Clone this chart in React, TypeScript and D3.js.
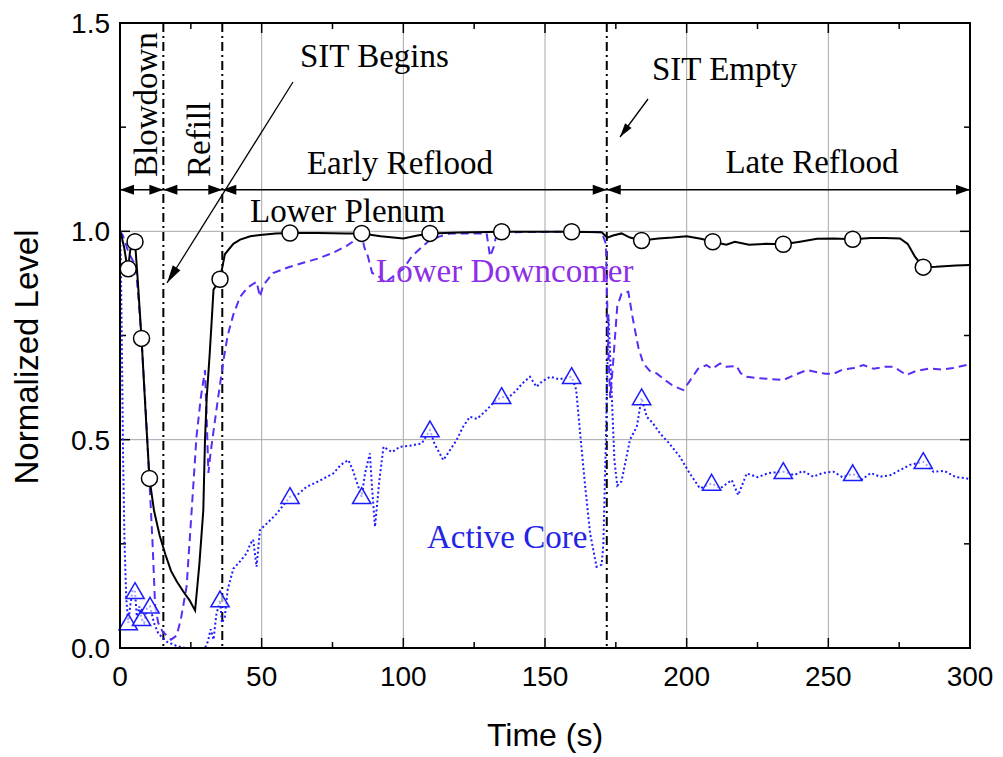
import React from "react";
import * as d3 from "d3";

// Normalized collapsed levels vs. time (s)
const lowerPlenum: [number, number][] = [
  [0, 1.0], [0.5, 0.99], [1.5, 0.96], [2.2, 0.93], [2.9, 0.91], [3.5, 0.95], [4.3, 0.975], [5.3, 0.975],
  [6.3, 0.88], [7.6, 0.743], [9, 0.57], [10.4, 0.407], [12, 0.33], [14, 0.27], [16, 0.225], [18, 0.185],
  [20, 0.16], [22.4, 0.135], [24.5, 0.115], [26.5, 0.09], [28, 0.2], [29.4, 0.33], [30, 0.5], [30.6, 0.6],
  [31.6, 0.7], [32.4, 0.79], [33, 0.86], [35.3, 0.885], [37, 0.945], [40, 0.97], [42.4, 0.98], [46, 0.988],
  [49.4, 0.991], [55, 0.995], [60, 0.996], [70, 0.996], [80, 0.995], [85.3, 0.995], [92, 0.988], [100, 0.983],
  [105, 0.99], [109.4, 0.995], [120, 0.997], [134.7, 0.999], [150, 0.999], [159.4, 0.999], [170, 0.998],
  [172, 0.985], [174, 0.99], [177, 0.995], [180, 0.985], [184.1, 0.978], [190, 0.983], [195, 0.985],
  [200, 0.988], [205, 0.982], [209.2, 0.975], [214, 0.968], [217, 0.975], [222, 0.968], [228, 0.97],
  [234.1, 0.969], [240, 0.975], [246, 0.982], [252, 0.983], [258.6, 0.981], [265, 0.984], [270, 0.984],
  [275.3, 0.983], [278, 0.97], [280.5, 0.94], [283.5, 0.914], [288, 0.915], [295, 0.918], [300, 0.919],
];
const lowerPlenumMarks: [number, number][] = [
  [2.9, 0.91], [5.3, 0.975], [7.6, 0.743], [10.4, 0.407], [35.3, 0.885], [60, 0.996], [85.3, 0.995],
  [109.4, 0.995], [134.7, 0.999], [159.4, 0.999], [184.1, 0.978], [209.2, 0.975], [234.1, 0.969],
  [258.6, 0.981], [283.5, 0.914],
];

const lowerDowncomer: [number, number][] = [
  [0, 1.0], [1, 0.99], [2, 0.97], [3, 0.95], [4.5, 0.93], [5.5, 0.92], [6.5, 0.84], [7.6, 0.74], [9, 0.58],
  [10.4, 0.4], [11.5, 0.25], [12.4, 0.1], [13.5, 0.06], [15, 0.04], [16.5, 0.03], [18, 0.02], [20, 0.03],
  [21.5, 0.07], [23.5, 0.147], [25, 0.3], [27, 0.507], [28.5, 0.6], [30, 0.667], [30.6, 0.55], [31.2, 0.42],
  [32, 0.47], [34, 0.57], [36.5, 0.69], [38, 0.75], [40, 0.8], [42.4, 0.843], [45, 0.865], [48.2, 0.879],
  [49.4, 0.843], [50.5, 0.87], [54, 0.9], [60, 0.915], [65, 0.925], [70, 0.935], [75, 0.948], [80, 0.965],
  [85.3, 0.99], [86.3, 0.96], [87.5, 0.94], [89, 0.9], [91.8, 0.89], [93.5, 0.876], [96, 0.89], [100, 0.91],
  [103, 0.94], [107, 0.965], [109.4, 0.979], [113, 0.988], [116.5, 0.995], [125, 0.995], [129.4, 0.995],
  [130.6, 0.94], [131.8, 0.96], [133, 0.995], [140, 0.998], [155, 0.999], [170, 0.998], [171.5, 0.97],
  [172.2, 0.75], [173, 0.6], [174, 0.68], [175.5, 0.82], [177, 0.85], [179.4, 0.855], [181, 0.79],
  [183, 0.72], [184.7, 0.683], [187, 0.665], [189.4, 0.659], [192, 0.645], [195, 0.63], [198.8, 0.619],
  [201, 0.64], [204, 0.67], [207, 0.679], [209, 0.67], [211.8, 0.683], [214, 0.675], [217.6, 0.677],
  [219, 0.66], [221.2, 0.651], [225, 0.648], [230, 0.645], [234.1, 0.643], [238, 0.655], [242.4, 0.667],
  [246, 0.662], [249, 0.658], [251.8, 0.658], [255, 0.668], [259, 0.672], [262.4, 0.679], [266, 0.67],
  [270, 0.675], [273, 0.675], [277.6, 0.655], [281, 0.665], [285.9, 0.671], [290, 0.668], [294, 0.672],
  [298.8, 0.679], [300, 0.68],
];

const activeCore: [number, number][] = [
  [0, 1.0], [0.3, 0.93], [0.7, 0.7], [1.1, 0.45], [1.6, 0.25], [2.2, 0.12], [2.9, 0.06], [3.6, 0.1],
  [4.4, 0.14], [5.3, 0.135], [6.0, 0.07], [6.8, 0.1], [7.6, 0.07], [8.5, 0.06], [9.5, 0.095], [10.6, 0.1],
  [12, 0.06], [13.5, 0.035], [16.5, 0.015], [20, 0.005], [23, 0], [30, 0], [31, 0.015], [32, 0.045],
  [33, 0.02], [34, 0.08], [35.3, 0.115], [36, 0.06], [37, 0.075], [38, 0.14], [40, 0.19], [42, 0.205],
  [44.7, 0.227], [46, 0.25], [47, 0.26], [48.2, 0.195], [49.4, 0.283], [52, 0.3], [55, 0.32], [60, 0.363],
  [63, 0.37], [65.9, 0.387], [70, 0.4], [75.3, 0.419], [78, 0.44], [80.6, 0.451], [82, 0.43], [85.3, 0.363],
  [86.5, 0.42], [88.2, 0.467], [89, 0.38], [90, 0.291], [91.5, 0.4], [93, 0.483], [96, 0.47], [98.8, 0.483],
  [102, 0.485], [106.5, 0.491], [109.4, 0.523], [111, 0.49], [114.1, 0.451], [116, 0.47], [118.8, 0.499],
  [121, 0.53], [123.5, 0.555], [126, 0.55], [129.4, 0.571], [132, 0.59], [134.7, 0.603], [137, 0.6],
  [140, 0.619], [142, 0.635], [144.7, 0.651], [147, 0.627], [149, 0.64], [151.8, 0.651], [155, 0.645],
  [159.4, 0.651], [161, 0.62], [162.4, 0.516], [164, 0.4], [165.9, 0.276], [168.2, 0.195], [170, 0.2],
  [170.6, 0.25], [171.5, 0.5], [172.4, 0.8], [173.3, 0.65], [174.5, 0.45], [175.5, 0.39], [177, 0.4],
  [178.5, 0.45], [180, 0.5], [182.4, 0.531], [184.1, 0.6], [185.9, 0.555], [188, 0.54], [190.6, 0.515],
  [194, 0.49], [197.6, 0.459], [201, 0.42], [204.7, 0.383], [208.8, 0.395], [211.8, 0.383], [215.9, 0.403],
  [218.2, 0.367], [221.2, 0.419], [225, 0.41], [229, 0.42], [234.1, 0.423], [238, 0.415], [241, 0.425],
  [244.7, 0.411], [248, 0.42], [251.8, 0.423], [255, 0.41], [258.6, 0.418], [262, 0.405], [265, 0.42],
  [268.2, 0.411], [272, 0.415], [275.3, 0.427], [279, 0.44], [283.5, 0.447], [287.1, 0.423], [291, 0.425],
  [295, 0.41], [298.8, 0.407], [300, 0.405],
];
const activeCoreMarks: [number, number][] = [
  [2.9, 0.06], [5.3, 0.135], [7.6, 0.07], [10.6, 0.1], [35.3, 0.115], [60, 0.363], [85.3, 0.363],
  [109.4, 0.523], [134.7, 0.603], [159.4, 0.651], [184.1, 0.6], [208.8, 0.395], [234.1, 0.423],
  [258.6, 0.418], [283.5, 0.447],
];

// Phase boundaries (s) and the phase spans drawn as arrows at level 1.1
const phaseBounds = [15.3, 36.1, 171.8];
const phaseSpans: [number, number][] = [[0, 15.3], [15.3, 36.1], [36.1, 171.8], [171.8, 300]];
const phaseArrowLevel = 1.1;

const xTicks = [0, 50, 100, 150, 200, 250, 300];
const xMinor = [25, 75, 125, 175, 225, 275];
const yTicks = [0, 0.5, 1.0, 1.5];
const yMinor = [0.25, 0.75, 1.25];

const W = 1003;
const H = 757;
const X0 = 120, X1 = 970, Y0 = 648, Y1 = 23;

const SANS = "'Liberation Sans', Arial, sans-serif";
const SERIF = "'Liberation Serif', 'Times New Roman', serif";
const DC_LINE = "#5a2df5";
const DC_TEXT = "#8e2ee8";
const AC_LINE = "#1c1cff";
const AC_TEXT = "#2323e6";

function arrowHead(x: number, y: number, angle: number, len = 14, half = 5) {
  const c = Math.cos(angle), s = Math.sin(angle);
  const bx = x - c * len, by = y - s * len;
  const p1 = [bx - s * half, by + c * half];
  const p2 = [bx + s * half, by - c * half];
  return `${x},${y} ${p1[0]},${p1[1]} ${p2[0]},${p2[1]}`;
}

export default function App() {
  const x = d3.scaleLinear().domain([0, 300]).range([X0, X1]);
  const y = d3.scaleLinear().domain([0, 1.5]).range([Y0, Y1]);
  const line = d3.line<[number, number]>().x((d) => x(d[0])).y((d) => y(d[1]));
  const tri = d3.symbol().type(d3.symbolTriangle).size(145)() as string;

  const ay = y(phaseArrowLevel);

  return (
    <svg width={W} height={H} style={{ position: "absolute", left: 0, top: 0, background: "#fff" }}>
      {/* grid */}
      <g stroke="#a8a8a8" strokeWidth={1}>
        {xTicks.slice(1, -1).map((t) => (
          <line key={"gx" + t} x1={x(t)} x2={x(t)} y1={Y1} y2={Y0} />
        ))}
        {yTicks.slice(1, -1).map((t) => (
          <line key={"gy" + t} x1={X0} x2={X1} y1={y(t)} y2={y(t)} />
        ))}
      </g>

      {/* ticks on all four sides, pointing inward */}
      <g stroke="#000" strokeWidth={1.5}>
        {xTicks.map((t) => (
          <g key={"tx" + t}>
            <line x1={x(t)} x2={x(t)} y1={Y0} y2={Y0 - 10} />
            <line x1={x(t)} x2={x(t)} y1={Y1} y2={Y1 + 10} />
          </g>
        ))}
        {xMinor.map((t) => (
          <g key={"mx" + t}>
            <line x1={x(t)} x2={x(t)} y1={Y0} y2={Y0 - 6} />
            <line x1={x(t)} x2={x(t)} y1={Y1} y2={Y1 + 6} />
          </g>
        ))}
        {yTicks.map((t) => (
          <g key={"ty" + t}>
            <line x1={X0} x2={X0 + 10} y1={y(t)} y2={y(t)} />
            <line x1={X1} x2={X1 - 10} y1={y(t)} y2={y(t)} />
          </g>
        ))}
        {yMinor.map((t) => (
          <g key={"my" + t}>
            <line x1={X0} x2={X0 + 6} y1={y(t)} y2={y(t)} />
            <line x1={X1} x2={X1 - 6} y1={y(t)} y2={y(t)} />
          </g>
        ))}
      </g>

      {/* phase boundaries */}
      <g stroke="#000" strokeWidth={2} strokeDasharray="9,4,2,4">
        {phaseBounds.map((t) => (
          <line key={"pb" + t} x1={x(t)} x2={x(t)} y1={Y1} y2={Y0} />
        ))}
      </g>

      {/* phase span arrows */}
      <g>
        {phaseSpans.map(([a, b], i) => (
          <g key={"ps" + i}>
            <line x1={x(a)} x2={x(b)} y1={ay} y2={ay} stroke="#000" strokeWidth={1.5} />
            <polygon points={arrowHead(x(a), ay, Math.PI)} fill="#000" />
            <polygon points={arrowHead(x(b), ay, 0)} fill="#000" />
          </g>
        ))}
      </g>

      {/* series */}
      <path d={line(activeCore) || ""} fill="none" stroke={AC_LINE} strokeWidth={2} strokeDasharray="2,2.5" />
      <path d={line(lowerDowncomer) || ""} fill="none" stroke={DC_LINE} strokeWidth={2} strokeDasharray="8,5" />
      <path d={line(lowerPlenum) || ""} fill="none" stroke="#000" strokeWidth={2} />

      {activeCoreMarks.map(([t, v], i) => (
        <path key={"am" + i} d={tri} transform={`translate(${x(t)},${y(v) + 1.5})`} fill="#fff" fillOpacity={0.6} stroke={AC_LINE} strokeWidth={1.5} />
      ))}
      {lowerPlenumMarks.map(([t, v], i) => (
        <circle key={"pm" + i} cx={x(t)} cy={y(v)} r={8} fill="#fff" stroke="#000" strokeWidth={1.5} />
      ))}

      {/* frame */}
      <rect x={X0} y={Y1} width={X1 - X0} height={Y0 - Y1} fill="none" stroke="#000" strokeWidth={2} />

      {/* tick labels */}
      <g fontFamily={SANS} fontSize={28} fill="#000">
        {xTicks.map((t) => (
          <text key={"lx" + t} x={x(t)} y={Y0 + 38} textAnchor="middle">{t}</text>
        ))}
        {yTicks.map((t) => (
          <text key={"ly" + t} x={X0 - 10} y={y(t) + 10} textAnchor="end">{t.toFixed(1)}</text>
        ))}
      </g>
      <text x={545} y={746} fontFamily={SANS} fontSize={32} textAnchor="middle">Time (s)</text>
      <text transform="translate(38,357) rotate(-90)" fontFamily={SANS} fontSize={33} textAnchor="middle">Normalized Level</text>

      {/* annotations */}
      <g fontFamily={SERIF} fontSize={33} fill="#000">
        <text transform="translate(157,177) rotate(-90)">Blowdown</text>
        <text transform="translate(210,177) rotate(-90)">Refill</text>
        <text x={300} y={67}>SIT Begins</text>
        <text x={652} y={80}>SIT Empty</text>
        <text x={x(98.8)} y={174} textAnchor="middle">Early Reflood</text>
        <text x={812} y={173} textAnchor="middle">Late Reflood</text>
        <text x={250} y={222}>Lower Plenum</text>
        <text x={376} y={282} fill={DC_TEXT}>Lower Downcomer</text>
        <text x={427} y={548} fill={AC_TEXT}>Active Core</text>
      </g>

      {/* callout arrows */}
      <line x1={293} y1={82} x2={167} y2={283} stroke="#000" strokeWidth={1.3} />
      <polygon points={arrowHead(167, 283, Math.atan2(283 - 82, 167 - 293), 18, 4.5)} fill="#000" />
      <line x1={648} y1={99} x2={620} y2={137} stroke="#000" strokeWidth={1.3} />
      <polygon points={arrowHead(620, 137, Math.atan2(137 - 99, 620 - 648), 14, 4)} fill="#000" />
    </svg>
  );
}
